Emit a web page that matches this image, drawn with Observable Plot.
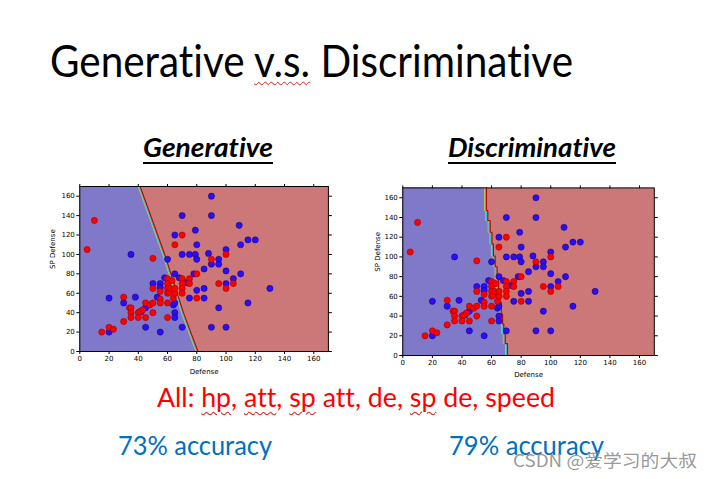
<!DOCTYPE html>
<html>
<head>
<meta charset="utf-8">
<script src="https://cdn.jsdelivr.net/npm/d3@7"></script>
<script src="https://cdn.jsdelivr.net/npm/@observablehq/plot@0.6"></script>
<style>
  body { margin: 0; background: #fff; }
  #slide { position: relative; width: 713px; height: 479px; overflow: hidden; background: #fff; }
  #slide div { font-variant-ligatures: none; font-feature-settings: "liga" 0, "dlig" 0; }
  .wavy { text-decoration: underline wavy #e02020; text-decoration-thickness: 1px; text-underline-offset: 4px; }
  .plot { position: absolute; }
</style>
</head>
<body>
<div id="slide"></div>
<script>
// ---- data ----
const defenseRed   = [5,10,15,20,23,30,30,34,35,35,35,40,41,40,43,45,45,48,50,50,50,50,55,55,55,60,60,60,60,61,60,60,62,63,64,65,65,65,70,70,70,70,70,75,75,80,80,90,95,100,100,105];
const spDefenseRed = [105,135,20,25,23,56,31,45,45,40,35,40,41,35,43,50,35,48,50,40,96,65,62,54,50,75,70,65,60,61,50,35,65,73,55,60,65,110,120,75,70,65,60,75,70,80,55,95,70,100,65,70];
const defenseBlue   = [20,20,30,35,38,42,45,45,50,53,55,55,55,58,60,64,65,65,65,65,65,68,70,70,70,73,75,75,78,79,79,80,80,80,85,85,85,88,90,90,90,90,95,95,95,100,100,100,100,105,109,110,110,115,115,120,130];
const spDefenseBlue = [55,20,50,100,56,41,45,25,70,56,70,66,20,76,95,48,50,80,120,40,35,76,140,100,25,71,100,55,80,125,100,110,95,63,85,65,55,101,160,140,90,25,95,90,45,105,83,70,25,75,130,110,80,115,50,115,65];
const xTicks = [0,20,40,60,80,100,120,140,160];
const yTicks = [0,20,40,60,80,100,120,140,160];
// decision boundaries (SP Defense level -> Defense at boundary)
const genBoundaryY  = [170,100,40,0];
const genBoundaryX  = [41,57.8,70.6,80.5];
const discBoundaryY = [170,147,137,125,113,101,90,78,66,54,42,32,22,12,0];
const discBoundaryX = [56.3,57.2,58.8,60,61,62.2,63.5,64.5,65.3,66.3,67.2,68,69,70.5,71.2];

const points = [
  ...defenseRed.map((d,i)=>({def:d, sp:spDefenseRed[i], c:"red"})),
  ...defenseBlue.map((d,i)=>({def:d, sp:spDefenseBlue[i], c:"blue"}))
];
const order = [...points.filter(p=>p.c==="blue"), ...points.filter(p=>p.c==="red")];

const slide = document.getElementById("slide");

function makePlot(o, bX, bY, curve) {
  const boundary = bX.map((x,i)=>({x, y:bY[i]}));
  const chart = Plot.plot({
    width: o.width, height: o.height,
    marginLeft: o.mL, marginRight: o.mR, marginTop: o.mT, marginBottom: o.mB,
    x: {domain: [0,170]},
    y: {domain: [0,170]},
    style: {fontFamily: "DejaVu Sans", fontSize: "7px", color: "#000", background: "transparent"},
    marks: [
      Plot.frame({fill: "#cc7878", stroke: null}),
      Plot.areaX(boundary, {x: "x", y: "y", fill: "#8078c8", curve}),
      Plot.line(boundary, {x: "x", y: "y", stroke: "#e0e020", strokeWidth: 0.8, dx: -1.6, curve}),
      Plot.line(boundary, {x: "x", y: "y", stroke: "#20d0d0", strokeWidth: 1, dx: -0.8, curve}),
      Plot.line(boundary, {x: "x", y: "y", stroke: "#c00000", strokeWidth: 1.1, dx: 0.4, curve}),
      Plot.dot(order, {x: "def", y: "sp", r: 3.1,
        fill: d => d.c === "red" ? "#ff0000" : "#2a0cff",
        stroke: d => d.c === "red" ? "#8a0000" : "#18005a", strokeWidth: 0.5}),
      Plot.frame({stroke: "#000", strokeWidth: 1}),
      Plot.axisX({ticks: xTicks, tickSize: 3, tickPadding: 2, label: null}),
      Plot.axisX({anchor: "top", ticks: xTicks, tickSize: 3, tickFormat: () => "", label: null}),
      Plot.axisY({ticks: yTicks, tickSize: 3, tickPadding: 2, label: null}),
      Plot.axisY({anchor: "right", ticks: yTicks, tickSize: 3, tickFormat: () => "", label: null}),
      Plot.text(["Defense"], {text: d => d, frameAnchor: "bottom", lineAnchor: "middle", dy: o.xLab}),
      Plot.text(["SP Defense"], {text: d => d, frameAnchor: "left", rotate: -90, lineAnchor: "middle", dx: o.yLab})
    ]
  });
  chart.classList.add("plot");
  chart.style.left = o.left + "px";
  chart.style.top = o.top + "px";
  slide.appendChild(chart);
}

makePlot({left: 30, top: 176, width: 310, height: 200, mL: 49.3, mR: 12.1, mT: 10, mB: 25, xLab: 20, yLab: -27},
  genBoundaryX, genBoundaryY, "linear");
makePlot({left: 355, top: 177, width: 310, height: 205, mL: 47.3, mR: 11.2, mT: 10.4, mB: 27, xLab: 19, yLab: -25},
  discBoundaryX, discBoundaryY, "step-before");

// ---- slide text ----
function place(html, o) {
  const d = document.createElement("div");
  const size = o.size || o.capH / 0.7165;
  d.style.cssText = `position:absolute;left:${o.left}px;top:0;white-space:nowrap;` +
    `font-family:${o.family || "Lato"};font-size:${size}px;font-weight:${o.weight || 400};` +
    `font-style:${o.style || "normal"};color:${o.color || "#000"};line-height:1.2;transform-origin:0 0;` + (o.extra || "");
  d.innerHTML = html + '<span style="display:inline-block;width:0;height:0;vertical-align:baseline"></span>';
  slide.appendChild(d);
  const marker = d.lastChild;
  const base = marker.offsetTop;
  const w = d.getBoundingClientRect().width;
  d.style.top = (o.baseline - base) + "px";
  d.style.transform = `scaleX(${(o.right - o.left) / w})`;
}

place('Generative <span class="wavy">v.s.</span> Discriminative', {left: 50, right: 573, baseline: 77, capH: 32});
place('Generative', {left: 143, right: 273, baseline: 157, capH: 19, weight: 700, style: "italic",
  extra: "text-decoration:underline;text-decoration-thickness:2px;text-underline-offset:5px;"});
place('Discriminative', {left: 448, right: 616, baseline: 157, capH: 19, weight: 700, style: "italic",
  extra: "text-decoration:underline;text-decoration-thickness:2px;text-underline-offset:5px;"});
place('All: <span class="wavy">hp</span>, <span class="wavy">att</span>, <span class="wavy">sp</span> att, de, <span class="wavy">sp</span> de, speed',
  {left: 157, right: 555, baseline: 407, capH: 19, color: "#ff0000"});
place('73% accuracy', {left: 118, right: 272, baseline: 455, capH: 19, color: "#0070c0"});
place('79% accuracy', {left: 449, right: 604, baseline: 455, capH: 19, color: "#0070c0"});
place('CSDN @爱学习的大叔', {left: 513, right: 697, baseline: 467, size: 17, family: "'Noto Sans CJK SC'", color: "rgba(140,140,140,0.9)"});
</script>
</body>
</html>
